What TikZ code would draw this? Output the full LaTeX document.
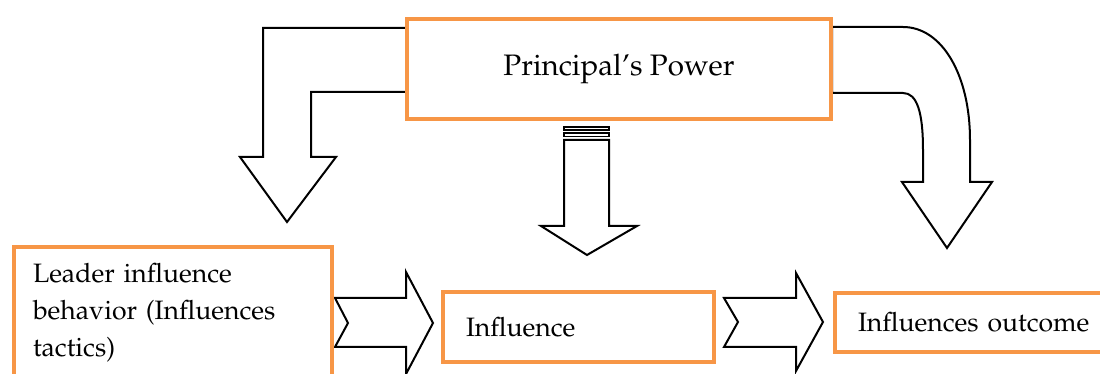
\documentclass[tikz,border=0pt]{standalone}
\usepackage[T1]{fontenc}
\usepackage{mathpazo}
\usetikzlibrary{positioning}
\definecolor{boxline}{RGB}{247,150,70}
\tikzset{
  framebox/.style={rectangle, draw=boxline, line width=2pt, fill=white, inner sep=0pt, font=\fontsize{13.3}{18.5}\selectfont},
  blockarrow/.style={draw=black, fill=white, line width=1pt, line join=miter},
}

\begin{document}
\begin{tikzpicture}[x=0.5pt, y=-0.5pt]
\clip (0,0) rectangle (1100,374);
% block arrows
\draw[blockarrow] (406,28) -- (263,28) -- (263,157) -- (240,157) -- (287,222) -- (336,157)
  -- (311,157) -- (311,92) -- (406,92) -- cycle;
\draw[blockarrow, line width=0.8pt] (564,127) rectangle (609,130);
\draw[blockarrow, line width=0.6pt] (564,133) rectangle (609,136.5);
\draw[blockarrow] (564,140) -- (609,140) -- (609,226) -- (637,226) -- (587,255) -- (541,226)
  -- (564,226) -- cycle;
\draw[blockarrow] (832,27) -- (903,27) .. controls (942,27) and (970,75) .. (970,140) -- (970,182)
  -- (992,182) -- (947,248) -- (902,182) -- (923,182) -- (923,150)
  .. controls (923,112) and (917,93) .. (903,93) -- (832,93) -- cycle;
\draw[blockarrow] (335,298) -- (406,298) -- (406,272) -- (433,323) -- (406,374) -- (406,347)
  -- (335,347) -- (348,323) -- cycle;
\draw[blockarrow] (724,298) -- (796,298) -- (796,273) -- (823,322) -- (796,371) -- (796,347)
  -- (724,347) -- (738,322) -- cycle;
% boxes
\node[framebox, minimum width=212pt, minimum height=50pt, font=\fontsize{14.8}{18}\selectfont]
  (power) at (619,69) {Principal's Power};
\node[framebox, minimum width=159pt, minimum height=66pt, text width=140pt, inner xsep=9.5pt,
  align=left] (leader) at (173,313) {Leader influence\\ behavior (Influences\\ tactics)};
\node[framebox, minimum width=135.5pt, minimum height=35pt, text width=112.5pt, inner xsep=11.5pt,
  align=left] (influence) at (578.5,327) {Influence};
\node[framebox, minimum width=142.5pt, minimum height=29.5pt, text width=119.5pt, inner xsep=11.5pt,
  align=left] (outcome) at (977.5,322.5) {Influences outcome};
\end{tikzpicture}
\end{document}
